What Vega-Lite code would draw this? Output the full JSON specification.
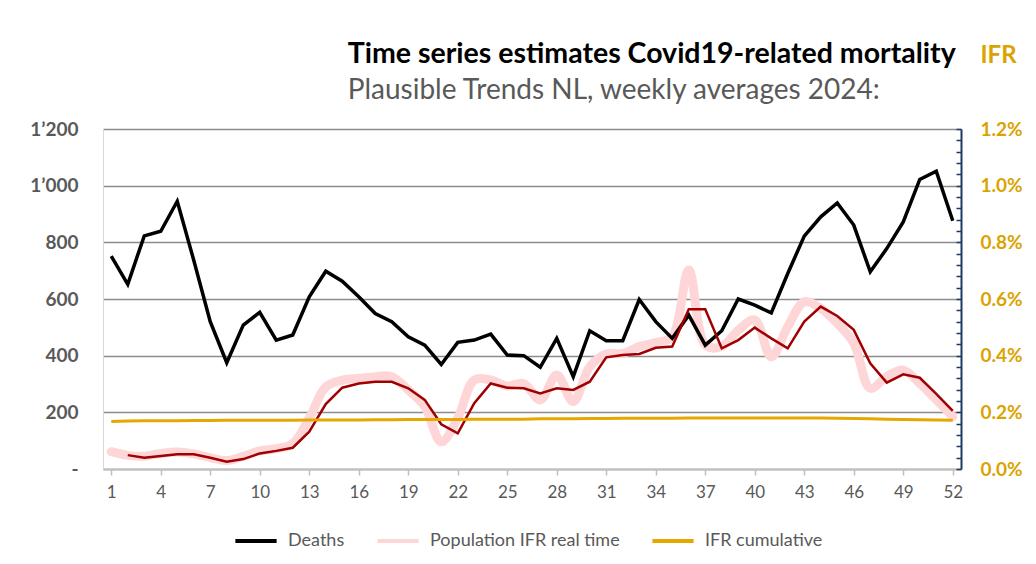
{
  "$schema": "https://vega.github.io/schema/vega-lite/v6.json",
  "width": 858,
  "height": 340,
  "autosize": {"type": "none"},
  "padding": {"left": 103, "top": 129, "right": 75, "bottom": 95},
  "background": "white",
  "title": {
    "text": "Time series estimates Covid19-related mortality",
    "subtitle": "Plausible Trends NL, weekly averages 2024:",
    "anchor": "start",
    "dx": 318,
    "offset": -62,
    "font": "Lato",
    "fontSize": 28.5,
    "fontWeight": "bold",
    "color": "#000000",
    "subtitleFont": "Lato",
    "subtitleFontSize": 28,
    "subtitleColor": "#595959",
    "subtitlePadding": 9
  },
  "data": {
    "values": [
      {"week": 1, "Deaths": 751, "Population IFR real time": 0.061, "smooth": null, "IFR cumulative": 0.168},
      {"week": 2, "Deaths": 652, "Population IFR real time": 0.048, "smooth": 0.049, "IFR cumulative": 0.169},
      {"week": 3, "Deaths": 823, "Population IFR real time": 0.045, "smooth": 0.040, "IFR cumulative": 0.170},
      {"week": 4, "Deaths": 839, "Population IFR real time": 0.055, "smooth": 0.046, "IFR cumulative": 0.170},
      {"week": 5, "Deaths": 945, "Population IFR real time": 0.060, "smooth": 0.052, "IFR cumulative": 0.170},
      {"week": 6, "Deaths": 737, "Population IFR real time": 0.053, "smooth": 0.052, "IFR cumulative": 0.171},
      {"week": 7, "Deaths": 520, "Population IFR real time": 0.040, "smooth": 0.040, "IFR cumulative": 0.171},
      {"week": 8, "Deaths": 375, "Population IFR real time": 0.030, "smooth": 0.026, "IFR cumulative": 0.172},
      {"week": 9, "Deaths": 508, "Population IFR real time": 0.045, "smooth": 0.035, "IFR cumulative": 0.172},
      {"week": 10, "Deaths": 553, "Population IFR real time": 0.064, "smooth": 0.055, "IFR cumulative": 0.172},
      {"week": 11, "Deaths": 455, "Population IFR real time": 0.072, "smooth": 0.064, "IFR cumulative": 0.172},
      {"week": 12, "Deaths": 473, "Population IFR real time": 0.090, "smooth": 0.075, "IFR cumulative": 0.172},
      {"week": 13, "Deaths": 608, "Population IFR real time": 0.179, "smooth": 0.132, "IFR cumulative": 0.173},
      {"week": 14, "Deaths": 698, "Population IFR real time": 0.290, "smooth": 0.229, "IFR cumulative": 0.173},
      {"week": 15, "Deaths": 663, "Population IFR real time": 0.314, "smooth": 0.287, "IFR cumulative": 0.173},
      {"week": 16, "Deaths": 608, "Population IFR real time": 0.320, "smooth": 0.302, "IFR cumulative": 0.173},
      {"week": 17, "Deaths": 549, "Population IFR real time": 0.326, "smooth": 0.308, "IFR cumulative": 0.174},
      {"week": 18, "Deaths": 520, "Population IFR real time": 0.326, "smooth": 0.308, "IFR cumulative": 0.174},
      {"week": 19, "Deaths": 467, "Population IFR real time": 0.279, "smooth": 0.285, "IFR cumulative": 0.175},
      {"week": 20, "Deaths": 437, "Population IFR real time": 0.220, "smooth": 0.244, "IFR cumulative": 0.175},
      {"week": 21, "Deaths": 369, "Population IFR real time": 0.096, "smooth": 0.158, "IFR cumulative": 0.175},
      {"week": 22, "Deaths": 447, "Population IFR real time": 0.180, "smooth": 0.126, "IFR cumulative": 0.175},
      {"week": 23, "Deaths": 455, "Population IFR real time": 0.314, "smooth": 0.232, "IFR cumulative": 0.176},
      {"week": 24, "Deaths": 476, "Population IFR real time": 0.314, "smooth": 0.302, "IFR cumulative": 0.176},
      {"week": 25, "Deaths": 402, "Population IFR real time": 0.293, "smooth": 0.287, "IFR cumulative": 0.176},
      {"week": 26, "Deaths": 400, "Population IFR real time": 0.302, "smooth": 0.285, "IFR cumulative": 0.176},
      {"week": 27, "Deaths": 359, "Population IFR real time": 0.244, "smooth": 0.267, "IFR cumulative": 0.177},
      {"week": 28, "Deaths": 461, "Population IFR real time": 0.332, "smooth": 0.285, "IFR cumulative": 0.177},
      {"week": 29, "Deaths": 326, "Population IFR real time": 0.238, "smooth": 0.279, "IFR cumulative": 0.177},
      {"week": 30, "Deaths": 488, "Population IFR real time": 0.361, "smooth": 0.308, "IFR cumulative": 0.178},
      {"week": 31, "Deaths": 453, "Population IFR real time": 0.406, "smooth": 0.394, "IFR cumulative": 0.178},
      {"week": 32, "Deaths": 453, "Population IFR real time": 0.408, "smooth": 0.402, "IFR cumulative": 0.179},
      {"week": 33, "Deaths": 598, "Population IFR real time": 0.432, "smooth": 0.406, "IFR cumulative": 0.179},
      {"week": 34, "Deaths": 520, "Population IFR real time": 0.446, "smooth": 0.428, "IFR cumulative": 0.179},
      {"week": 35, "Deaths": 461, "Population IFR real time": 0.467, "smooth": 0.432, "IFR cumulative": 0.179},
      {"week": 36, "Deaths": 543, "Population IFR real time": 0.702, "smooth": 0.564, "IFR cumulative": 0.180},
      {"week": 37, "Deaths": 437, "Population IFR real time": 0.438, "smooth": 0.564, "IFR cumulative": 0.180},
      {"week": 38, "Deaths": 488, "Population IFR real time": 0.432, "smooth": 0.426, "IFR cumulative": 0.180},
      {"week": 39, "Deaths": 600, "Population IFR real time": 0.490, "smooth": 0.455, "IFR cumulative": 0.180},
      {"week": 40, "Deaths": 578, "Population IFR real time": 0.526, "smooth": 0.499, "IFR cumulative": 0.180},
      {"week": 41, "Deaths": 551, "Population IFR real time": 0.396, "smooth": 0.461, "IFR cumulative": 0.180},
      {"week": 42, "Deaths": 690, "Population IFR real time": 0.502, "smooth": 0.426, "IFR cumulative": 0.180},
      {"week": 43, "Deaths": 822, "Population IFR real time": 0.590, "smooth": 0.520, "IFR cumulative": 0.180},
      {"week": 44, "Deaths": 890, "Population IFR real time": 0.567, "smooth": 0.573, "IFR cumulative": 0.180},
      {"week": 45, "Deaths": 939, "Population IFR real time": 0.514, "smooth": 0.540, "IFR cumulative": 0.179},
      {"week": 46, "Deaths": 861, "Population IFR real time": 0.444, "smooth": 0.491, "IFR cumulative": 0.178},
      {"week": 47, "Deaths": 696, "Population IFR real time": 0.285, "smooth": 0.373, "IFR cumulative": 0.177},
      {"week": 48, "Deaths": 778, "Population IFR real time": 0.326, "smooth": 0.305, "IFR cumulative": 0.176},
      {"week": 49, "Deaths": 872, "Population IFR real time": 0.349, "smooth": 0.334, "IFR cumulative": 0.175},
      {"week": 50, "Deaths": 1022, "Population IFR real time": 0.302, "smooth": 0.322, "IFR cumulative": 0.174},
      {"week": 51, "Deaths": 1051, "Population IFR real time": 0.244, "smooth": 0.265, "IFR cumulative": 0.173},
      {"week": 52, "Deaths": 876, "Population IFR real time": 0.185, "smooth": 0.205, "IFR cumulative": 0.172}
    ]
  },
  "encoding": {
    "x": {
      "field": "week",
      "type": "quantitative",
      "scale": {"domain": [0.5, 52.5], "nice": false, "zero": false},
      "axis": {
        "title": null,
        "values": [1, 4, 7, 10, 13, 16, 19, 22, 25, 28, 31, 34, 37, 40, 43, 46, 49, 52],
        "grid": false,
        "domainColor": "#bfbfbf",
        "domainWidth": 2,
        "tickColor": "#bfbfbf",
        "tickSize": 6,
        "tickWidth": 1.5,
        "labelFont": "Lato",
        "labelFontSize": 17,
        "labelColor": "#595959",
        "labelPadding": 9
      }
    }
  },
  "layer": [
    {
      "transform": [{"fold": ["Population IFR real time"], "as": ["series", "value"]}],
      "mark": {"type": "line", "strokeWidth": 9, "interpolate": "catmull-rom", "strokeCap": "round"},
      "encoding": {
        "y": {
          "field": "value",
          "type": "quantitative",
          "scale": {"domain": [0, 1.2], "nice": false},
          "axis": {
            "orient": "right",
            "title": "IFR",
            "titleAngle": 0,
            "titleAlign": "left",
            "titleBaseline": "alphabetic",
            "titleX": 19,
            "titleY": -67,
            "titleFont": "Lato",
            "titleFontSize": 24,
            "titleFontWeight": "bold",
            "titleColor": "#dba300",
            "values": [0, 0.04, 0.08, 0.12, 0.16, 0.2, 0.24, 0.28, 0.32, 0.36, 0.4, 0.44, 0.48, 0.52, 0.56, 0.6, 0.64, 0.68, 0.72, 0.76, 0.8, 0.84, 0.88, 0.92, 0.96, 1.0, 1.04, 1.08, 1.12, 1.16, 1.2],
            "labelExpr": "abs(datum.value * 5 - round(datum.value * 5)) < 0.001 ? format(datum.value, '.1f') + '%' : ''",
            "grid": false,
            "domainColor": "#203864",
            "domainWidth": 2,
            "tickColor": "#203864",
            "tickWidth": 1.5,
            "tickSize": -5,
            "labelFont": "Lato",
            "labelFontSize": 19,
            "labelFontWeight": "bold",
            "labelColor": "#dba300",
            "labelPadding": 24,
            "labelOverlap": false
          }
        },
        "color": {
          "field": "series",
          "type": "nominal",
          "scale": {
            "domain": ["Deaths", "Population IFR real time", "IFR cumulative"],
            "range": ["#000000", "#ffd6d8", "#e6a800"]
          },
          "legend": {
            "title": null,
            "orient": "none",
            "legendX": 130,
            "legendY": 389,
            "direction": "horizontal",
            "symbolType": "stroke",
            "symbolSize": 1700,
            "symbolStrokeWidth": 4,
            "labelFont": "Lato",
            "labelFontSize": 18,
            "labelColor": "#595959",
            "labelOffset": 9,
            "labelLimit": 400,
            "columnPadding": 24
          }
        }
      }
    },
    {
      "transform": [{"fold": ["Deaths"], "as": ["series", "value"]}],
      "mark": {"type": "line", "strokeWidth": 3.5, "strokeJoin": "miter"},
      "encoding": {
        "y": {
          "field": "value",
          "type": "quantitative",
          "scale": {"domain": [0, 1200], "nice": false},
          "axis": {
            "title": null,
            "orient": "left",
            "values": [0, 200, 400, 600, 800, 1000, 1200],
            "labelExpr": "datum.value == 0 ? '-' : replace(format(datum.value, ','), ',', '’')",
            "grid": true,
            "gridColor": "#8c8c8c",
            "gridWidth": 1.6,
            "ticks": false,
            "domainColor": "#d9d9d9",
            "domainWidth": 1,
            "labelFont": "Lato",
            "labelFontSize": 19,
            "labelFontWeight": "bold",
            "labelColor": "#595959",
            "labelPadding": 25
          }
        },
        "color": {"field": "series", "type": "nominal"}
      }
    },
    {
      "mark": {"type": "line", "strokeWidth": 2.5, "color": "#a00000"},
      "encoding": {
        "y": {"field": "smooth", "type": "quantitative", "scale": {"domain": [0, 1.2], "nice": false}, "axis": null}
      }
    },
    {
      "transform": [{"fold": ["IFR cumulative"], "as": ["series", "value"]}],
      "mark": {"type": "line", "strokeWidth": 3},
      "encoding": {
        "y": {"field": "value", "type": "quantitative", "scale": {"domain": [0, 1.2], "nice": false}, "axis": null},
        "color": {"field": "series", "type": "nominal"}
      }
    }
  ],
  "resolve": {"scale": {"y": "independent"}},
  "config": {
    "view": {"stroke": null}
  }
}
